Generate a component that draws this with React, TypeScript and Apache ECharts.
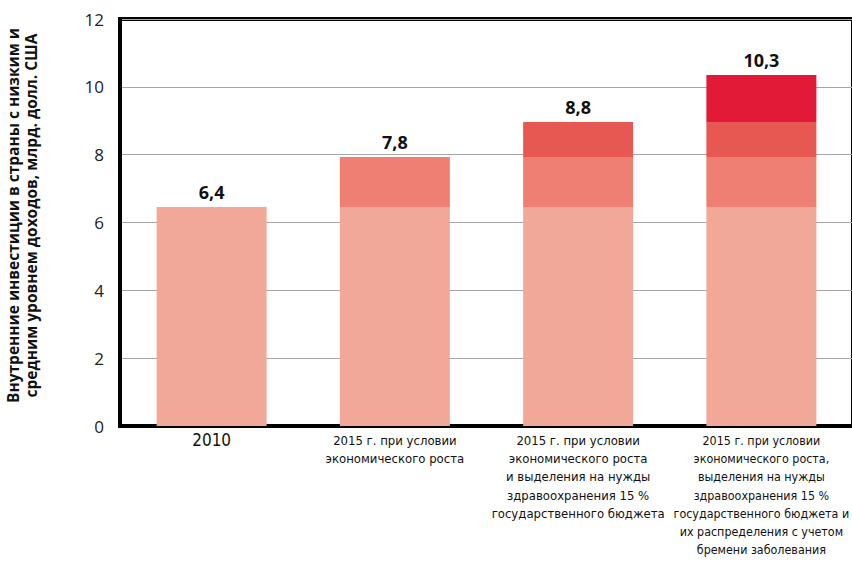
import React, { useEffect, useRef } from "react";
import * as echarts from "echarts";

const categories = [
  "2010",
  "2015 г. при условии\nэкономического роста",
  "2015 г. при условии\nэкономического роста\nи выделения на нужды\nздравоохранения 15 %\nгосударственного бюджета",
  "2015 г. при условии\nэкономического роста,\nвыделения на нужды\nздравоохранения 15 %\nгосударственного бюджета и\nих распределения с учетом\nбремени заболевания",
];
const base2010 = [6.46, 6.46, 6.46, 6.46];
const growth = [null, 1.47, 1.47, 1.47];
const budget15 = [null, null, 1.03, 1.03];
const burden = [null, null, null, 1.39];
const totals = ["6,4", "7,8", "8,8", "10,3"];
const yTicks = [0, 2, 4, 6, 8, 10, 12];

const colors = ["#F2A898", "#EE7F72", "#E85852", "#E21A38"];

export default function App() {
  const ref = useRef<HTMLDivElement>(null);
  useEffect(() => {
    const chart = echarts.init(ref.current!, null, { renderer: "svg" });
    const topIndex = (i: number) =>
      burden[i] != null ? 3 : budget15[i] != null ? 2 : growth[i] != null ? 1 : 0;
    const mk = (name: string, data: (number | null)[], k: number) => ({
      name,
      type: "bar",
      stack: "s",
      barWidth: 110,
      data,
      itemStyle: { color: colors[k] },
      label: {
        show: true,
        position: "top",
        distance: 6,
        fontFamily: "Open Sans",
        fontWeight: "bold",
        fontSize: 18,
        color: "#111",
        formatter: (p: any) => (topIndex(p.dataIndex) === k ? totals[p.dataIndex] : ""),
      },
    });
    const wrap = (tag: string, v: string) =>
      v
        .split("\n")
        .map((l) => "{" + tag + "|" + l + "}")
        .join("\n");
    chart.setOption({
      animation: false,
      grid: {
        left: 120,
        right: -1,
        top: 19,
        bottom: 137,
        show: true,
        borderColor: "#000",
        borderWidth: 4,
        containLabel: false,
        outerBoundsMode: "none",
      },
      xAxis: {
        type: "category",
        data: categories,
        axisLine: { show: true, lineStyle: { color: "#000", width: 4 } },
        axisTick: { show: false },
        axisLabel: {
          interval: 0,
          hideOverlap: false,
          margin: 5,
          fontFamily: "Liberation Sans Narrow, DejaVu Sans Condensed, sans-serif",
          fontSize: 13,
          lineHeight: 18.3,
          color: "#111",
          formatter: (v: string, i: number) =>
            v === "2010" ? wrap("big", v) : wrap(i === 3 ? "s" : "n", v),
          rich: {
            big: { fontSize: 17, lineHeight: 18.3, color: "#111" },
            n: { fontSize: 13, lineHeight: 18.3, color: "#111" },
            s: { fontSize: 12.4, lineHeight: 18.3, color: "#111" },
          },
        },
      },
      yAxis: {
        type: "value",
        min: yTicks[0],
        max: yTicks[yTicks.length - 1],
        interval: 2,
        name: "Внутренние инвестиции в страны с низким и\nсредним уровнем доходов, млрд. долл. США",
        nameLocation: "middle",
        nameRotate: 90,
        nameGap: 80,
        nameTextStyle: {
          fontFamily: "Open Sans",
          fontWeight: "bold",
          fontSize: 15.5,
          lineHeight: 18,
          color: "#111",
          padding: [0, 0, 0, 14],
        },
        axisLine: { show: true, lineStyle: { color: "#000", width: 4 } },
        axisTick: { show: false },
        axisLabel: {
          margin: 16,
          fontFamily: "Open Sans",
          fontSize: 17,
          color: "#222",
        },
        splitLine: { lineStyle: { color: "#a6a6a6", width: 1 } },
      },
      series: [
        mk("2010", base2010, 0),
        mk("growth", growth, 1),
        mk("budget", budget15, 2),
        mk("burden", burden, 3),
      ],
    });
    return () => chart.dispose();
  }, []);
  return (
    <div
      ref={ref}
      style={{ position: "absolute", left: 0, top: 0, width: 852, height: 563 }}
    />
  );
}
